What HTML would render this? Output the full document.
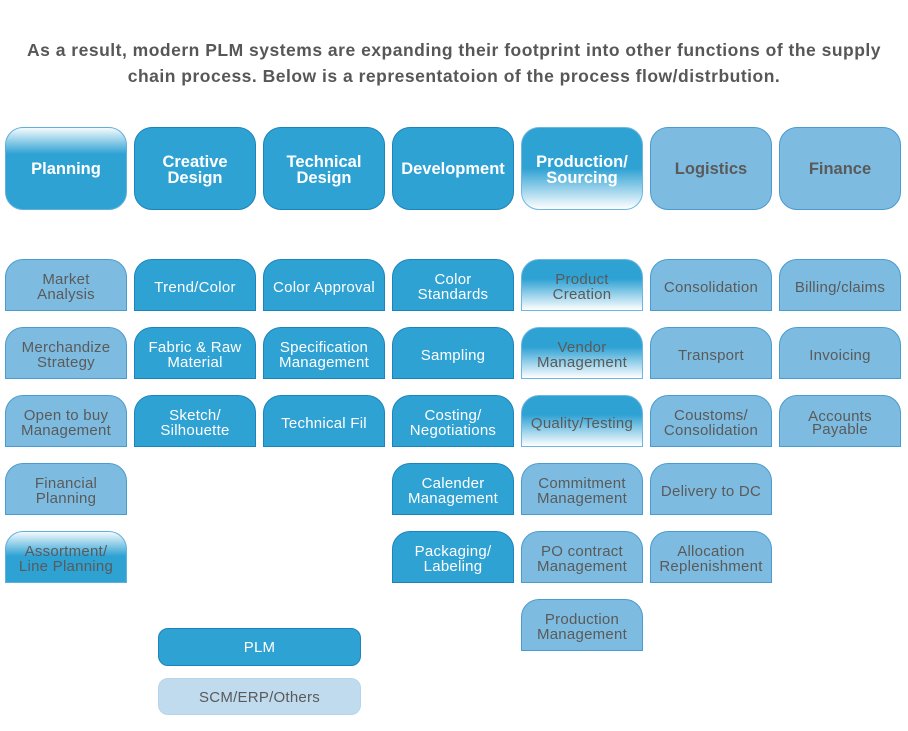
<!DOCTYPE html>
<html><head><meta charset="utf-8"><style>
html,body{margin:0;padding:0;background:#fff;}
body{width:908px;height:731px;position:relative;overflow:hidden;font-family:"Liberation Sans",sans-serif;}
.title{position:absolute;left:0;top:37px;width:908px;text-align:center;font-size:17.5px;letter-spacing:0.5px;font-weight:bold;line-height:26px;color:#575757;white-space:nowrap;}
.h,.b{position:absolute;width:122px;box-sizing:border-box;display:flex;align-items:center;justify-content:center;text-align:center;}
.h{height:83px;top:127px;border-radius:18px;font-size:16.5px;font-weight:bold;line-height:16px;}
.h2{padding-top:2px;}
.b{height:52px;border-radius:18px 18px 0 0;font-size:15px;letter-spacing:0.25px;line-height:15px;padding-top:4px;white-space:nowrap;}
.d{background:#2fa2d4;border:1px solid #1b84bd;color:#fff;}
.l{background:#7dbce0;border:1px solid #4a9bcf;color:#5a5a5a;}
.gd{background:linear-gradient(to bottom,#2fa2d4 0%,#2fa2d4 38%,#ffffff 100%);border:1px solid #6db6e2;color:#5a5a5a;}
.gh{background:linear-gradient(to bottom,#2fa2d4 0%,#2fa2d4 50%,#ffffff 100%);border:1px solid #6db6e2;color:#fff;}
.gp{background:linear-gradient(to bottom,#f4fafd 0%,#2fa2d4 32%,#2fa2d4 100%);border:1px solid #5fb0dc;color:#fff;}
.ga{background:linear-gradient(to bottom,#f4fafd 0%,#2fa2d4 48%,#2fa2d4 100%);border:1px solid #5fb0dc;color:#5a5a5a;}
.lg{position:absolute;left:158px;width:203px;box-sizing:border-box;border-radius:10px;display:flex;align-items:center;justify-content:center;font-size:15px;letter-spacing:0.25px;padding-top:1px;}
</style></head><body>
<div class="title">As a result, modern PLM systems are expanding their footprint into other functions of the supply<br>chain process. Below is a representatoion of the process flow/distrbution.</div>

<div class="h gp" style="left:5px">Planning</div>
<div class="h d h2" style="left:134px">Creative<br>Design</div>
<div class="h d h2" style="left:263px">Technical<br>Design</div>
<div class="h d" style="left:392px">Development</div>
<div class="h gh h2" style="left:521px">Production/<br>Sourcing</div>
<div class="h l" style="left:650px">Logistics</div>
<div class="h l" style="left:779px">Finance</div>

<!-- Planning column -->
<div class="b l" style="left:5px;top:259px">Market<br>Analysis</div>
<div class="b l" style="left:5px;top:327px">Merchandize<br>Strategy</div>
<div class="b l" style="left:5px;top:395px">Open to buy<br>Management</div>
<div class="b l" style="left:5px;top:463px">Financial<br>Planning</div>
<div class="b ga" style="left:5px;top:531px">Assortment/<br>Line Planning</div>

<!-- Creative -->
<div class="b d" style="left:134px;top:259px">Trend/Color</div>
<div class="b d" style="left:134px;top:327px">Fabric &amp; Raw<br>Material</div>
<div class="b d" style="left:134px;top:395px">Sketch/<br>Silhouette</div>

<!-- Technical -->
<div class="b d" style="left:263px;top:259px">Color Approval</div>
<div class="b d" style="left:263px;top:327px">Specification<br>Management</div>
<div class="b d" style="left:263px;top:395px">Technical Fil</div>

<!-- Development -->
<div class="b d" style="left:392px;top:259px">Color<br>Standards</div>
<div class="b d" style="left:392px;top:327px">Sampling</div>
<div class="b d" style="left:392px;top:395px">Costing/<br>Negotiations</div>
<div class="b d" style="left:392px;top:463px">Calender<br>Management</div>
<div class="b d" style="left:392px;top:531px">Packaging/<br>Labeling</div>

<!-- Production -->
<div class="b gd" style="left:521px;top:259px">Product<br>Creation</div>
<div class="b gd" style="left:521px;top:327px">Vendor<br>Management</div>
<div class="b gd" style="left:521px;top:395px">Quality/Testing</div>
<div class="b l" style="left:521px;top:463px">Commitment<br>Management</div>
<div class="b l" style="left:521px;top:531px">PO contract<br>Management</div>
<div class="b l" style="left:521px;top:599px">Production<br>Management</div>

<!-- Logistics -->
<div class="b l" style="left:650px;top:259px">Consolidation</div>
<div class="b l" style="left:650px;top:327px">Transport</div>
<div class="b l" style="left:650px;top:395px">Coustoms/<br>Consolidation</div>
<div class="b l" style="left:650px;top:463px">Delivery to DC</div>
<div class="b l" style="left:650px;top:531px">Allocation<br>Replenishment</div>

<!-- Finance -->
<div class="b l" style="left:779px;top:259px">Billing/claims</div>
<div class="b l" style="left:779px;top:327px">Invoicing</div>
<div class="b l" style="left:779px;top:395px;line-height:13px">Accounts<br>Payable</div>

<div class="lg" style="top:628px;height:38px;background:#2fa2d4;border:1px solid #1b84bd;color:#fff;">PLM</div>
<div class="lg" style="top:678px;height:37px;background:#c0dbee;border:1px solid #b6d5ec;color:#5a5a5a;">SCM/ERP/Others</div>
</body></html>
